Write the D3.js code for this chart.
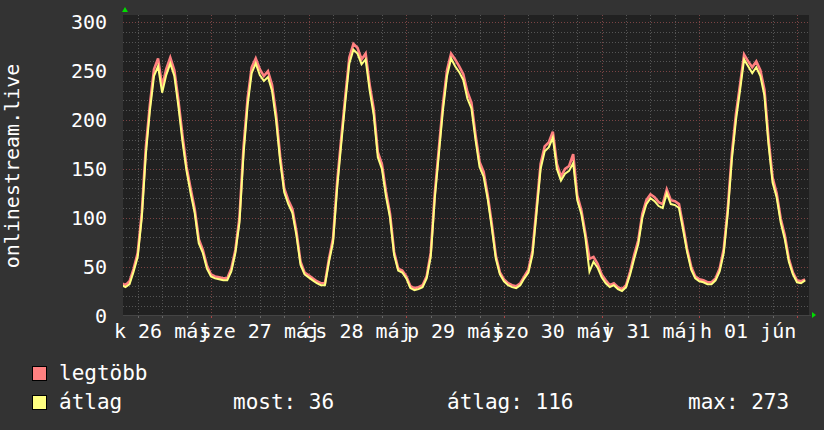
<!DOCTYPE html>
<html>
<head>
<meta charset="utf-8">
<script src="https://cdn.jsdelivr.net/npm/d3@7"></script>
<style>
  body { margin: 0; background: #333333; }
  text { font-family: "DejaVu Sans Mono", monospace; fill: #ffffff; }
</style>
</head>
<body>
<svg id="chart" width="824" height="430"></svg>
<script>
// hourly samples, first one at 02:00 on 26 May
const firstSample = "2015-05-26 02:00";
const viewStart = "2015-05-26 02:23";
const viewEnd = "2015-06-02 02:57";

const dayLabels = ["k 26 máj", "sze 27 máj", "cs 28 máj", "p 29 máj", "szo 30 máj", "v 31 máj", "h 01 jún"];
const yTickValues = [0, 50, 100, 150, 200, 250, 300];
const axisTitle = "onlinestream.live";

const maxValues = [
    33,31,35,48,64,105,172,216,252,263,
    234,252,264,251,220,184,152,130,109,78,
    67,51,42,40,39,38,38,48,67,100,
    172,222,254,263,252,245,250,236,206,163,
    130,118,109,86,55,44,41,38,35,33,
    33,58,79,136,181,224,264,278,274,262,
    268,236,211,167,155,127,104,65,48,46,
    40,30,28,29,31,40,64,125,171,216,
    251,268,262,255,247,229,218,185,157,147,
    123,94,61,44,37,33,31,30,33,40,
    47,66,110,155,173,177,188,155,142,150,
    153,165,123,108,84,58,60,53,42,36,
    31,33,29,27,31,45,62,77,104,118,
    124,121,116,114,129,118,117,114,92,68,
    50,40,37,36,34,34,38,48,68,110,
    166,206,236,267,260,254,260,251,231,181,
    141,125,99,82,58,44,36,35,37
];

const avgValues = [
    31,29,32,45,60,100,165,210,245,255,
    228,246,258,245,214,178,148,125,105,74,
    64,48,40,38,37,36,36,45,64,95,
    165,215,248,258,246,240,244,230,200,158,
    126,114,105,82,52,42,39,36,33,31,
    31,55,75,130,175,218,258,272,268,257,
    262,230,205,162,150,122,100,62,46,44,
    38,28,26,27,29,38,60,120,165,210,
    245,263,255,249,241,222,212,180,152,142,
    119,90,58,42,35,31,29,28,31,38,
    44,62,105,150,168,172,182,150,138,145,
    148,156,118,104,80,45,55,49,39,33,
    29,31,27,25,29,42,58,73,100,114,
    120,117,112,110,125,114,113,110,88,65,
    47,38,35,34,32,32,36,45,64,105,
    160,200,230,262,255,248,254,245,225,175,
    136,121,95,78,55,42,34,33,36
];

const legendNames = ["legtöbb", "átlag"];
const legendColors = ["#ff8080", "#ffff80"];
const legendStats = ["most: 36", "átlag: 116", "max: 273"];

const parseTime = d3.timeParse("%Y-%m-%d %H:%M");
const t0 = parseTime(firstSample);
const times = avgValues.map((d, i) => d3.timeHour.offset(t0, i));

const svg = d3.select("#chart");
const plot = { left: 123, right: 809, top: 15, bottom: 316 };

const x = d3.scaleTime()
    .domain([parseTime(viewStart), parseTime(viewEnd)])
    .range([plot.left, plot.right]);
const y = d3.scaleLinear().domain([0, 300]).range([315.5, 22.3]);

svg.append("rect").attr("width", 824).attr("height", 430).attr("fill", "#333333");
svg.append("rect")
    .attr("x", plot.left).attr("y", plot.top)
    .attr("width", plot.right - plot.left).attr("height", plot.bottom - plot.top)
    .attr("fill", "#212121");

svg.append("defs").append("clipPath").attr("id", "clip")
    .append("rect")
    .attr("x", plot.left).attr("y", plot.top)
    .attr("width", plot.right - plot.left).attr("height", plot.bottom - plot.top);

// grid
const grid = svg.append("g").attr("shape-rendering", "crispEdges");
d3.range(10, 310, 10).forEach(v => {
    const major = v % 50 === 0;
    grid.append("line")
        .attr("x1", plot.left).attr("x2", plot.right)
        .attr("y1", Math.round(y(v)) + 0.5).attr("y2", Math.round(y(v)) + 0.5)
        .attr("stroke", major ? "#7a4444" : "#555555")
        .attr("stroke-dasharray", "1,2");
});
x.ticks(d3.timeHour.every(6)).forEach(t => {
    const major = t.getHours() === 0;
    const px = Math.round(x(t)) + 0.5;
    grid.append("line")
        .attr("x1", px).attr("x2", px)
        .attr("y1", plot.top).attr("y2", plot.bottom)
        .attr("stroke", major ? "#7a4444" : "#555555")
        .attr("stroke-dasharray", "1,2");
    grid.append("line")
        .attr("x1", px).attr("x2", px)
        .attr("y1", plot.bottom - 1).attr("y2", plot.bottom + 2)
        .attr("stroke", major ? "#aa4444" : "#666666");
});

// series
const line = d3.line()
    .x((d, i) => x(times[i]))
    .y(d => y(d));

const series = svg.append("g").attr("clip-path", "url(#clip)");
series.append("path")
    .attr("d", line(maxValues))
    .attr("fill", "none")
    .attr("stroke", legendColors[0])
    .attr("stroke-width", 2.6)
    .attr("stroke-linejoin", "miter");
series.append("path")
    .attr("d", line(avgValues))
    .attr("fill", "none")
    .attr("stroke", legendColors[1])
    .attr("stroke-width", 2)
    .attr("stroke-linejoin", "miter");

// axes
svg.append("line")
    .attr("x1", plot.left).attr("x2", plot.right + 2)
    .attr("y1", plot.bottom - 0.5).attr("y2", plot.bottom - 0.5)
    .attr("stroke", "#444444");
svg.append("path")
    .attr("d", `M${plot.left - 1},12 L${plot.left + 2},7 L${plot.left + 5},12 Z`)
    .attr("fill", "#00dd00");
svg.append("path")
    .attr("d", `M${plot.right + 3},${plot.bottom - 4} L${plot.right + 7},${plot.bottom - 1} L${plot.right + 3},${plot.bottom + 2} Z`)
    .attr("fill", "#00dd00");

svg.append("g").selectAll("text")
    .data(yTickValues)
    .join("text")
    .attr("x", 107)
    .attr("y", d => y(d) + 7)
    .attr("text-anchor", "end")
    .style("font-size", "20px")
    .text(d => d);

const days = d3.timeDay.range(d3.timeDay.floor(x.domain()[0]), x.domain()[1]);
svg.append("g").selectAll("text")
    .data(days)
    .join("text")
    .attr("x", d => x(d3.timeHour.offset(d, 12)))
    .attr("y", 338)
    .attr("text-anchor", "middle")
    .style("font-size", "20px")
    .text((d, i) => dayLabels[i]);

svg.append("text")
    .attr("transform", "translate(19,166) rotate(-90)")
    .attr("text-anchor", "middle")
    .style("font-size", "20px")
    .text(axisTitle);

// legend
const legend = svg.append("g");
legendNames.forEach((name, i) => {
    const ly = 366 + i * 29;
    legend.append("rect")
        .attr("x", 32.5).attr("y", ly + 0.5)
        .attr("width", 14).attr("height", 14)
        .attr("fill", legendColors[i])
        .attr("stroke", "#000000");
    legend.append("text")
        .attr("x", 59).attr("y", ly + 14)
        .style("font-size", "21px")
        .text(name);
});
[233, 447, 688].forEach((lx, i) => {
    legend.append("text")
        .attr("x", lx).attr("y", 366 + 29 + 14)
        .style("font-size", "21px")
        .text(legendStats[i]);
});
</script>
</body>
</html>
